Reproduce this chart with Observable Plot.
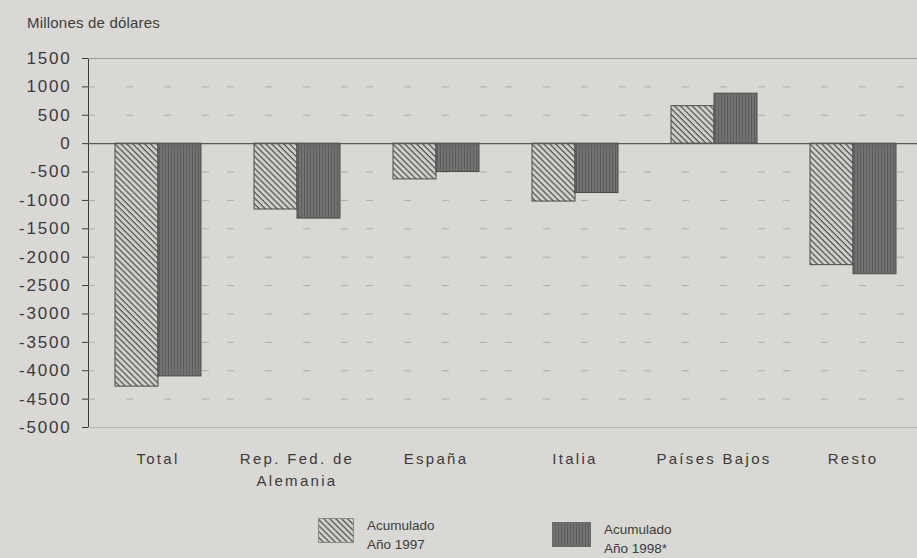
<!DOCTYPE html>
<html>
<head>
<meta charset="utf-8">
<script src="https://cdn.jsdelivr.net/npm/d3@7"></script>
<script src="https://cdn.jsdelivr.net/npm/@observablehq/plot@0.6"></script>
<style>
  html, body { margin: 0; padding: 0; }
  body { width: 917px; height: 558px; background: #d9d8d4; position: relative; overflow: hidden;
         font-family: "Liberation Sans", Arial, sans-serif; color: #3a3a3a; }
  #title { position: absolute; left: 27px; top: 14px; font-size: 15px; letter-spacing: 0.2px; color: #3c3c3c; }
  #chart { position: absolute; left: 0; top: 40px; }
  .leg { position: absolute; display: flex; align-items: flex-start; font-size: 13.5px; line-height: 19px; color: #3c3c3c; }
  .leg svg { margin-right: 13px; margin-top: 2px; }
  g[aria-label="y-axis tick label"] { font-size: 17px; letter-spacing: 1.8px; fill: #3a3a3a; }
  g[aria-label="fx-axis tick label"] { font-size: 15px; letter-spacing: 2.3px; fill: #3a3a3a; }
</style>
</head>
<body>
<div id="title">Millones de dólares</div>
<div id="chart"></div>
<div class="leg" id="leg97" style="left:318px; top:516px;"></div>
<div class="leg" id="leg98" style="left:552px; top:520px;"></div>
<script>
const categories = ["Total", "Rep. Fed. de\nAlemania", "España", "Italia", "Países Bajos", "Resto"];
const years = ["1997", "1998"];
const values1997 = [-4280, -1160, -630, -1020, 660, -2140];
const values1998 = [-4100, -1320, -500, -870, 880, -2300];
const yTicks = [1500, 1000, 500, 0, -500, -1000, -1500, -2000, -2500, -3000, -3500, -4000, -4500, -5000];
const gridTicks = [1000, 500, -500, -1000, -1500, -2000, -2500, -3000, -3500, -4000, -4500];
const legendLabels = ["Acumulado\nAño 1997", "Acumulado\nAño 1998*"];

const data = categories.flatMap((c, i) => [
  {cat: c, year: years[0], value: values1997[i]},
  {cat: c, year: years[1], value: values1998[i]}
]);

const plot = Plot.plot({
  width: 917,
  height: 462,
  marginTop: 18,
  marginBottom: 75,
  marginLeft: 88,
  marginRight: -5,
  style: {background: "transparent", fontFamily: "'Liberation Sans', Arial, sans-serif", color: "#3a3a3a"},
  fx: {domain: categories, padding: 0, label: null},
  x: {domain: years, paddingInner: 0, paddingOuter: 0.615, axis: null},
  y: {domain: [-5000, 1500], ticks: yTicks, tickFormat: d => String(d), tickSize: 6, tickPadding: 11, line: true, label: null},
  color: {domain: years, range: ["url(#p97)", "url(#p98)"]},
  marks: [
    Plot.ruleY(gridTicks, {stroke: "#8a8a8a", strokeOpacity: 0.55, strokeDasharray: "7,31"}),
    Plot.ruleY([1500], {stroke: "#9c9c9a", strokeWidth: 1.2}),
    Plot.ruleY([-5000], {stroke: "#b8b8b4", strokeWidth: 1}),
    Plot.barY(data, {fx: "cat", x: "year", y: "value", fill: "year", stroke: "#4a4a4a", strokeWidth: 1}),
    Plot.ruleY([0], {stroke: "#585858", strokeWidth: 1.3}),
    Plot.axisFx({anchor: "bottom", tickSize: 0, tickPadding: 21, lineAnchor: "top", lineHeight: 1.45, label: null})
  ]
});

const svg = d3.select(plot);
const defs = svg.insert("defs", ":first-child");
const p97 = defs.append("pattern").attr("id", "p97").attr("patternUnits", "userSpaceOnUse")
  .attr("width", 4.2).attr("height", 4.2).attr("patternTransform", "rotate(45)");
p97.append("rect").attr("width", 4.2).attr("height", 4.2).attr("fill", "#d0d0cc");
p97.append("rect").attr("x", 0).attr("y", 0).attr("width", 4.2).attr("height", 1.2).attr("fill", "#4e4e4e");
const p98 = defs.append("pattern").attr("id", "p98").attr("patternUnits", "userSpaceOnUse")
  .attr("width", 3).attr("height", 3);
p98.append("rect").attr("width", 3).attr("height", 3).attr("fill", "#727271");
p98.append("rect").attr("x", 0).attr("y", 0).attr("width", 1).attr("height", 3).attr("fill", "#5e5e5e");

document.getElementById("chart").appendChild(plot);

function legend(id, key, label, w, h) {
  const el = d3.select("#" + id);
  const s = el.append("svg").attr("width", w).attr("height", h);
  s.append("rect").attr("x", 0.5).attr("y", 0.5).attr("width", w - 1).attr("height", h - 1)
    .attr("fill", key === years[0] ? "url(#p97)" : "url(#p98)")
    .attr("stroke", key === years[0] ? "#8a8a8a" : "#6a6a6a");
  el.append("div").html(label.split("\n").join("<br>"));
}
legend("leg97", years[0], legendLabels[0], 36, 25);
legend("leg98", years[1], legendLabels[1], 39, 25);
</script>
</body>
</html>
